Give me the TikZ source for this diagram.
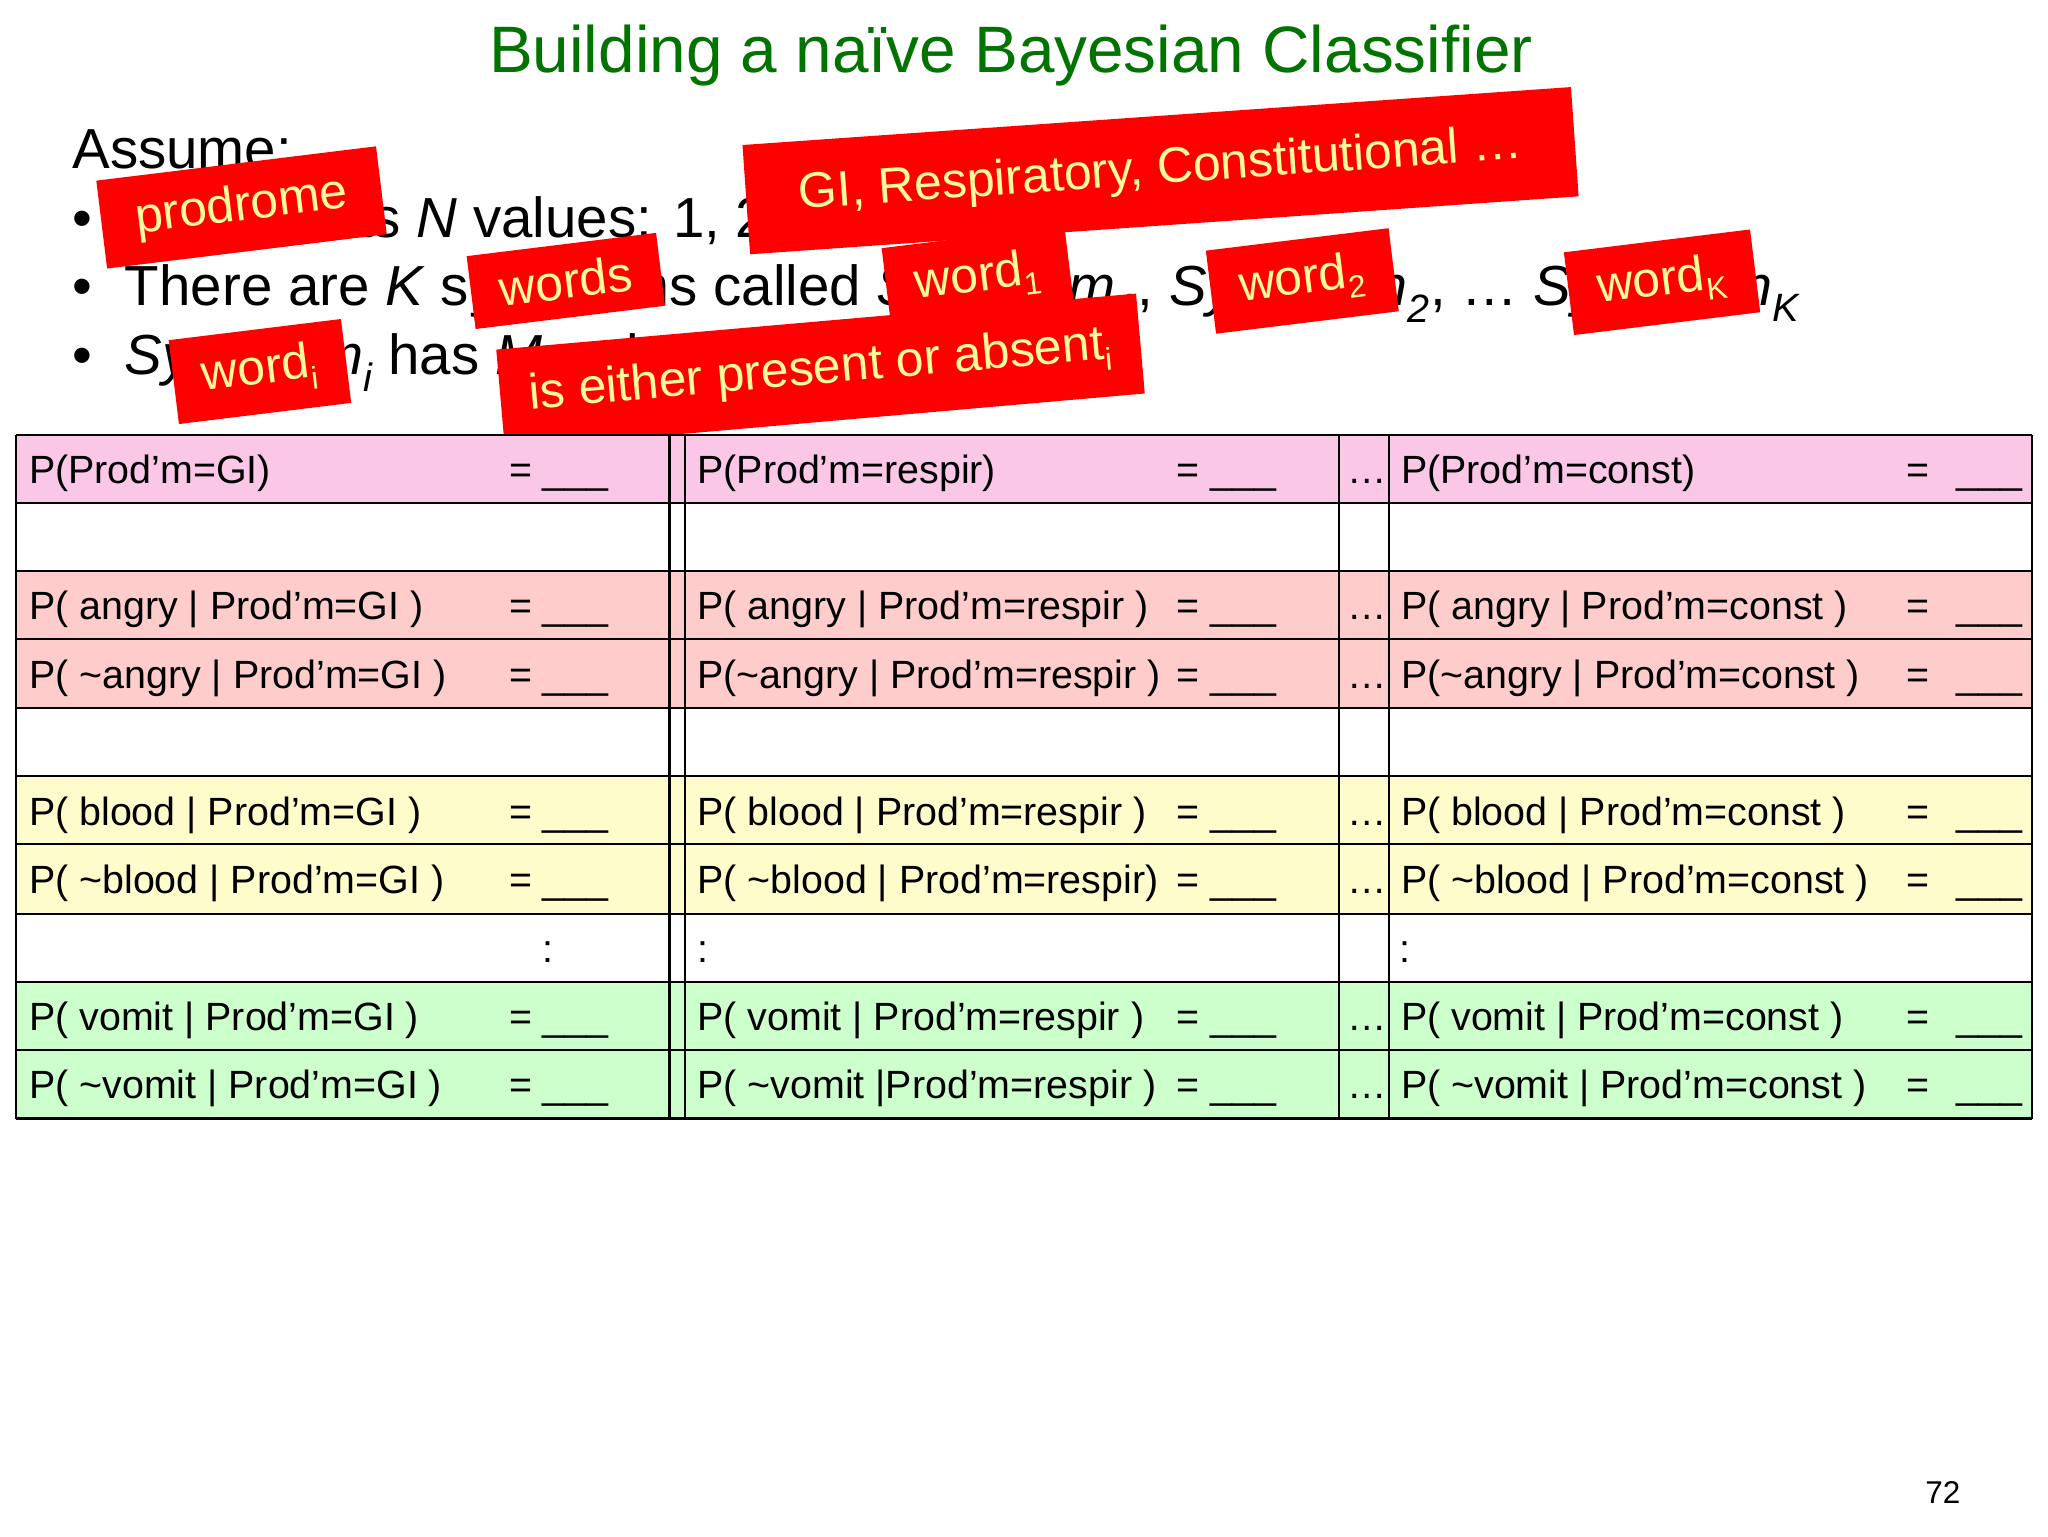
\documentclass[tikz,border=0pt]{standalone}
\usepackage{fontspec}
\setmainfont{Liberation Sans}
\newcommand{\mysub}[1]{\textsubscript{\fontsize{24}{26}\selectfont #1}}
\begin{document}
\begin{tikzpicture}[x=1pt,y=-1pt,
  body/.style={font=\fontsize{43}{50}\selectfont,anchor=base west,inner sep=0},
  cell/.style={font=\fontsize{30}{34}\selectfont,anchor=base west,inner sep=0},
  tag/.style={fill=red,text=yellow!40,font=\fontsize{38}{44}\selectfont,inner xsep=22pt,inner ysep=14pt,rotate=7},
  grid/.style={line width=1.6pt}]
\useasboundingbox (0,0) rectangle (1560,1170);
\fill[white] (0,0) rectangle (1560,1170);
\node[font=\fontsize{50}{58}\selectfont,text=green!45!black,inner sep=0] (title) at (770,42) {Building a naïve Bayesian Classifier};
% underlying text
\node[body] (l0) at (55,128) {Assume:};
\node[body] (b1) at (55,181) {•};
\node[body] (l1) at (95,181) {Output has \textit{N} values: 1, 2, 3 .. \textit{N}};
\node[body] (b2) at (55,233) {•};
\node[body] (l2) at (95,233) {There are \textit{K} symptoms called \textit{Symptom\textsubscript{1}}, \textit{Symptom\textsubscript{2}}, … \textit{Symptom\textsubscript{K}}};
\node[body] (b3) at (55,285) {•};
\node[body] (l3) at (95,285) {\textit{Symptom\textsubscript{i}} has \textit{M\textsubscript{i}} values};
% red tags
\node[tag,inner xsep=26pt,inner ysep=16pt] (t1) at (184,158) {prodrome};
\node[tag,rotate=-3,inner xsep=40pt,inner ysep=24pt] (t2) at (884,130) {GI, Respiratory, Constitutional …};
\node[tag] (t3) at (431,214) {words};
\node[tag] (t4) at (745,212) {word\mysub{1}};
\node[tag] (t5) at (992,214) {word\mysub{2}};
\node[tag] (t6) at (1266,215) {word\mysub{K}};
\node[tag] (t7) at (198,283) {word\mysub{i}};
\node[tag,rotate=-2,inner ysep=20pt] (t8) at (625,283) {is either present or absent\mysub{i}};
% table fills
\fill[magenta!22] (12,331) rectangle (1548,383);
\fill[red!20] (12,435) rectangle (1548,539);
\fill[yellow!20] (12,591) rectangle (1548,696);
\fill[green!20] (12,748) rectangle (1548,852);
\foreach \y in {331,383,435,487,539,591,643,696,748,800,852} \draw[grid] (12,\y) -- (1548,\y);
\foreach \x in {12,510,522,1020,1058,1548} \draw[grid] (\x,331) -- (\x,852);
% cells
\foreach \r/\a/\b/\c in {
 1/{P(Prod'm=GI)}/{P(Prod'm=respir)}/{P(Prod'm=const)},
 3/{P( angry | Prod'm=GI )}/{P( angry | Prod'm=respir )}/{P( angry | Prod'm=const )},
 4/{P( \textasciitilde angry | Prod'm=GI )}/{P(\textasciitilde angry | Prod'm=respir )}/{P(\textasciitilde angry | Prod'm=const )},
 6/{P( blood | Prod'm=GI )}/{P( blood | Prod'm=respir )}/{P( blood | Prod'm=const )},
 7/{P( \textasciitilde blood | Prod'm=GI )}/{P( \textasciitilde blood | Prod'm=respir)}/{P( \textasciitilde blood | Prod'm=const )},
 9/{P( vomit | Prod'm=GI )}/{P( vomit | Prod'm=respir )}/{P( vomit | Prod'm=const )},
 10/{P( \textasciitilde vomit | Prod'm=GI )}/{P( \textasciitilde vomit |Prod'm=respir )}/{P( \textasciitilde vomit | Prod'm=const )}}{
  \pgfmathsetmacro\yy{331+52.1*(\r-1)+37}
  \node[cell] (a\r) at (22,\yy) {\a};
  \node[cell] (ea\r) at (388,\yy) {=};
  \node[cell] (ua\r) at (413,\yy) {\_\_\_};
  \node[cell] (b\r) at (531,\yy) {\b};
  \node[cell] (eb\r) at (896,\yy) {=};
  \node[cell] (ub\r) at (922,\yy) {\_\_\_};
  \node[cell] (d\r) at (1026,\yy) {…};
  \node[cell] (c\r) at (1067,\yy) {\c};
  \node[cell] (ec\r) at (1452,\yy) {=};
  \node[cell] (uc\r) at (1490,\yy) {\_\_\_};
}
\node[cell] (k1) at (413,733) {:};
\node[cell] (k2) at (531,733) {:};
\node[cell] (k3) at (1066,733) {:};
\node[font=\fontsize{24}{28}\selectfont,inner sep=0] (pg) at (1480,1137) {72};
\end{tikzpicture}
\end{document}
